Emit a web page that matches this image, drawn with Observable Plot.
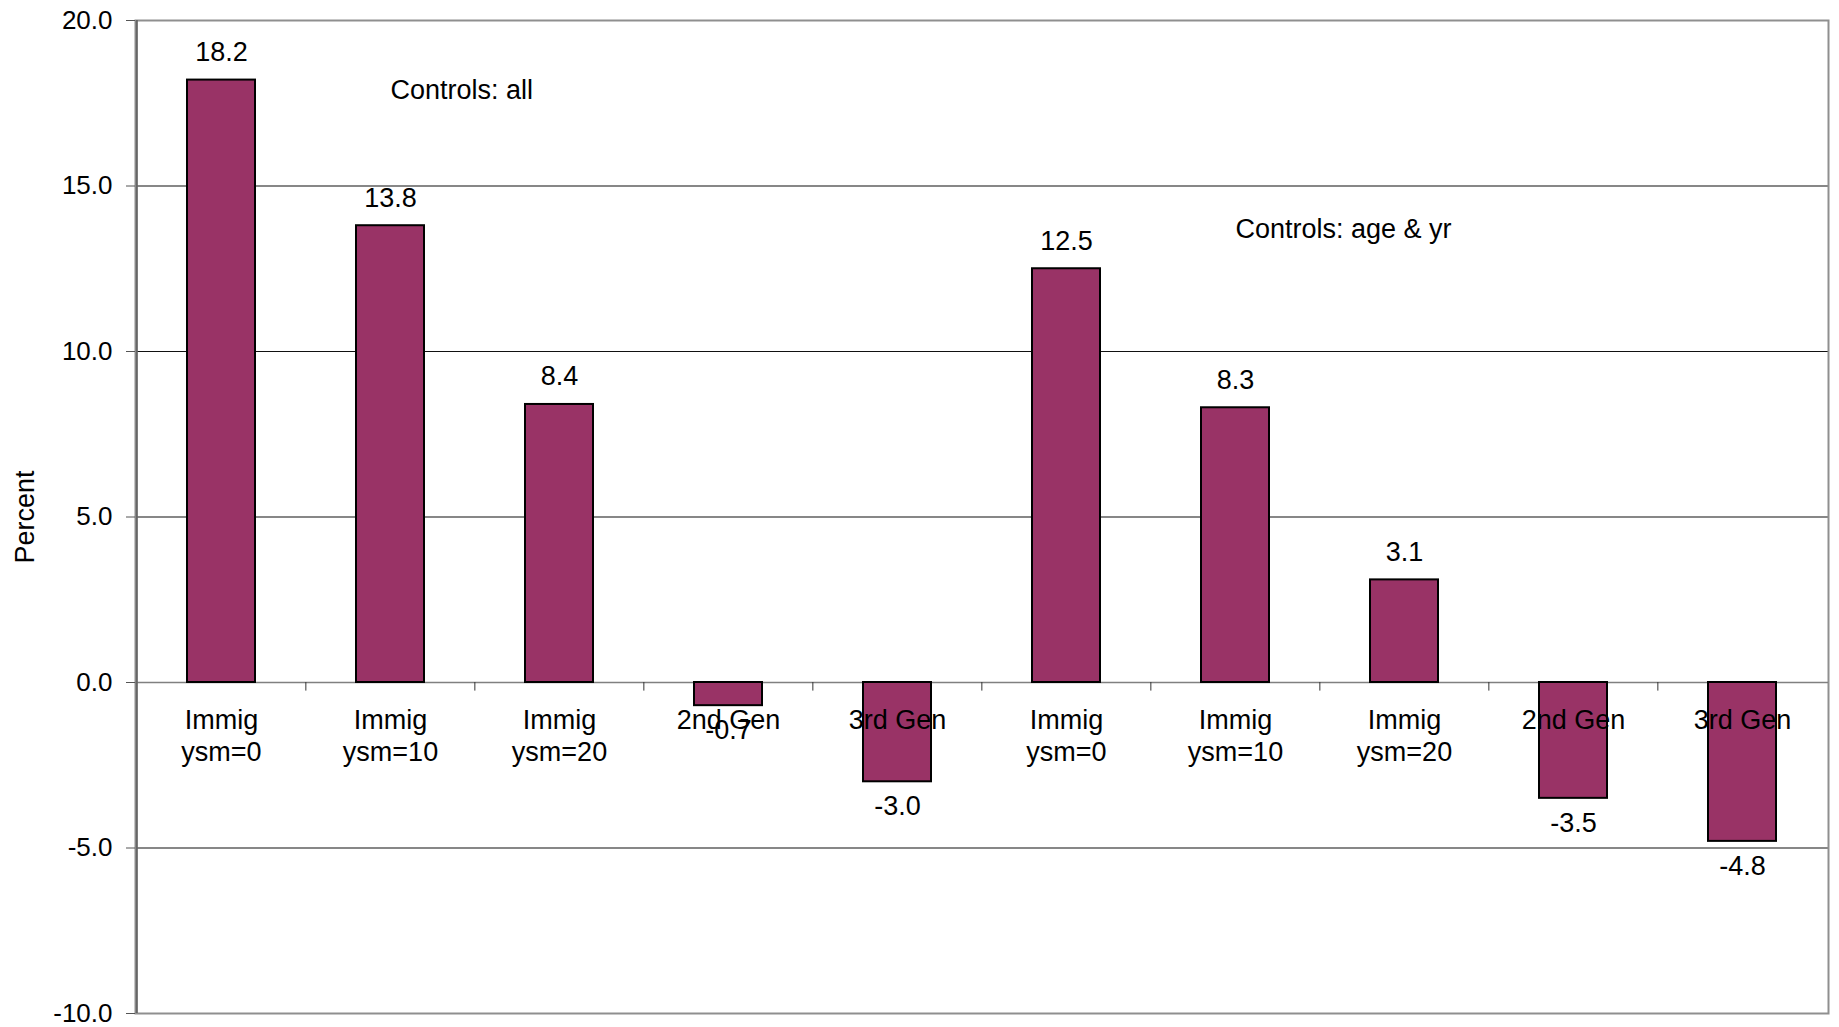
<!DOCTYPE html>
<html>
<head>
<meta charset="utf-8">
<script src="https://cdn.jsdelivr.net/npm/d3@7"></script>
<script src="https://cdn.jsdelivr.net/npm/@observablehq/plot@0.6"></script>
<style>
  html, body { margin: 0; padding: 0; background: #fff; }
  #chart svg { display: block; }
</style>
</head>
<body>
<div id="chart"></div>
<script>
// ---- data ----
const categories = ["Immig\nysm=0", "Immig\nysm=10", "Immig\nysm=20", "2nd Gen", "3rd Gen",
                    "Immig\nysm=0", "Immig\nysm=10", "Immig\nysm=20", "2nd Gen", "3rd Gen"];
const values = [18.2, 13.8, 8.4, -0.7, -3.0, 12.5, 8.3, 3.1, -3.5, -4.8];
const yTicks = [-10, -5, 0, 5, 10, 15, 20];
const gridValues = [15, 10, 5, -5];
const annotationText = ["Controls: all", "Controls: age & yr"];
const annotationIndex = [1, 6];
const annotationY = [17.9, 13.7];
const yLabel = "Percent";

// ---- layout ----
const W = 1839, H = 1027;
const mL = 135, mR = 11, mT = 20, mB = 14;
const step = (W - mL - mR) / categories.length;
const font = "Liberation Sans, Arial, Helvetica, sans-serif";
const fs = 27;

const data = categories.map((c, i) => ({i, label: c, value: values[i]}));
const boundaries = d3.range(0, categories.length);
const annotations = annotationText.map((t, k) => ({t, i: annotationIndex[k], y: annotationY[k]}));

const chart = Plot.plot({
  width: W, height: H,
  marginLeft: mL, marginRight: mR, marginTop: mT, marginBottom: mB,
  style: {fontFamily: font, fontSize: "26px", color: "#000", background: "#fff"},
  x: {type: "band", domain: d3.range(categories.length), paddingInner: 0.6, paddingOuter: 0.3, align: 0.5, axis: null},
  y: {domain: [-10, 20], ticks: yTicks, label: null, tickFormat: d => d.toFixed(1)},
  marks: [
    Plot.ruleY(gridValues, {stroke: "#111", strokeWidth: 1.2}),
    Plot.frame({stroke: "#8f8f8f", strokeWidth: 2}),
    Plot.ruleY([0], {stroke: "#808080", strokeWidth: 1.5}),
    Plot.ruleX(boundaries.slice(1), {x: d => d, dx: -step / 2, y1: 0, y2: -0.26, stroke: "#333", strokeWidth: 1}),
    Plot.ruleX([0], {x: d => d, dx: -step / 2, stroke: "#666", strokeWidth: 2}),
    Plot.axisY({ticks: yTicks, tickSize: 9, tickPadding: 14, stroke: "#555", fontSize: 26,
                tickFormat: d => d.toFixed(1), label: null}),
    Plot.barY(data, {x: "i", y: "value", fill: "#993366", stroke: "#000", strokeWidth: 2}),
    Plot.text(data, {x: "i", y: 0, text: "label", lineAnchor: "top", dy: 23, lineHeight: 1.2,
                     fill: "#000", fontSize: fs}),
    Plot.text(data.filter(d => d.value >= 0), {x: "i", y: "value", text: d => d.value.toFixed(1),
                     lineAnchor: "bottom", dy: -19, fill: "#000", fontSize: fs}),
    Plot.text(data.filter(d => d.value < 0), {x: "i", y: "value", text: d => d.value.toFixed(1),
                     lineAnchor: "top", dy: 14, fill: "#000", fontSize: fs}),
    Plot.text(annotations, {x: "i", y: "y", text: "t", textAnchor: "start", fill: "#000", fontSize: fs}),
    Plot.text([yLabel], {frameAnchor: "left", dx: -110, rotate: -90, textAnchor: "middle",
                         text: d => d, fill: "#000", fontSize: fs})
  ]
});
document.getElementById("chart").appendChild(chart);
</script>
</body>
</html>
